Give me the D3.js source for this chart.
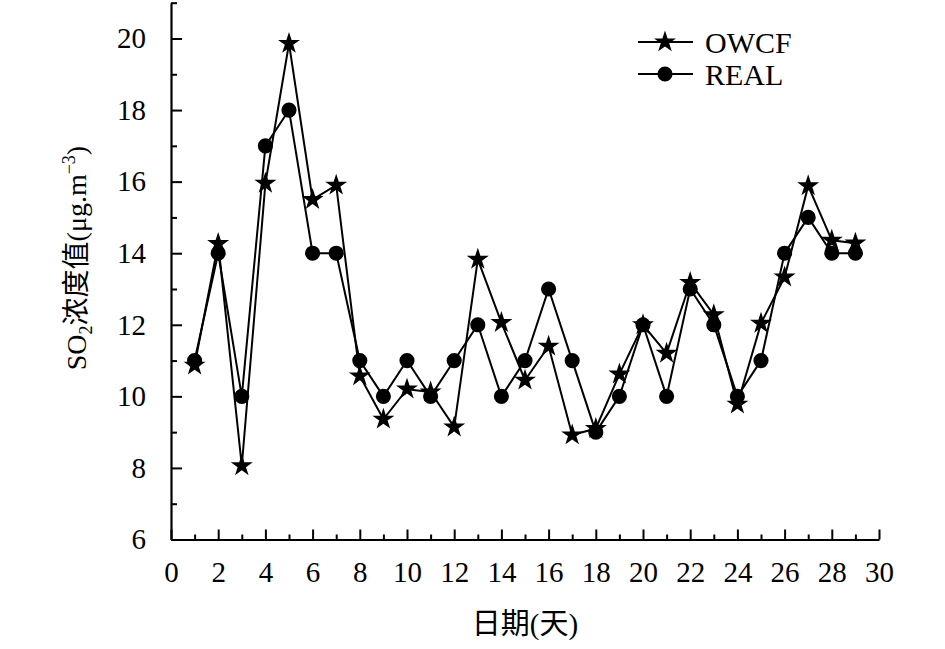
<!DOCTYPE html>
<html>
<head>
<meta charset="utf-8">
<script src="https://cdn.jsdelivr.net/npm/d3@7"></script>
<style>
  body { margin: 0; background: #fff; }
  svg text { font-family: "Liberation Serif", "Noto Sans CJK SC", serif; fill: #000; }
</style>
</head>
<body>
<div id="chart"></div>
<script>
const days = [1, 2, 3, 4, 5, 6, 7, 8, 9, 10, 11, 12, 13, 14, 15, 16, 17, 18, 19, 20, 21, 22, 23, 24, 25, 26, 27, 28, 29];
const owcf = [10.87, 14.27, 8.06, 15.95, 19.86, 15.5, 15.9, 10.57, 9.36, 10.2, 10.12, 9.14, 13.83, 12.06, 10.45, 11.4, 8.92, 9.1, 10.62, 12.0, 11.2, 13.18, 12.28, 9.78, 12.04, 13.33, 15.88, 14.36, 14.28];
const real = [11, 14, 10, 17, 18, 14, 14, 11, 10, 11, 10, 11, 12, 10, 11, 13, 11, 9, 10, 12, 10, 13, 12, 10, 11, 14, 15, 14, 14];
const seriesNames = ["OWCF", "REAL"];
const xTicks = [0, 2, 4, 6, 8, 10, 12, 14, 16, 18, 20, 22, 24, 26, 28, 30];
const yTicks = [6, 8, 10, 12, 14, 16, 18, 20];

const serif = "'Liberation Serif', 'Noto Sans CJK SC', serif";
const width = 945, height = 649;

const svg = d3.select("#chart")
    .append("svg")
    .attr("width", width)
    .attr("height", height);

const x = d3.scaleLinear().domain([0, 30]).range([171, 879]);
const y = d3.scaleLinear().domain([6, 21]).range([539.5, 2.7]);

// minor ticks (odd values), no labels
svg.append("g")
    .attr("transform", "translate(0,539.5)")
    .call(d3.axisBottom(x).tickValues(d3.range(1, 30, 2)).tickSizeInner(-5).tickSizeOuter(0).tickFormat(""))
    .call(g => g.select(".domain").remove())
    .selectAll("line").attr("stroke-width", 2);

svg.append("g")
    .attr("transform", "translate(171,0)")
    .call(d3.axisLeft(y).tickValues(d3.range(7, 22, 2)).tickSizeInner(-6).tickSizeOuter(0).tickFormat(""))
    .call(g => g.select(".domain").remove())
    .selectAll("line").attr("stroke-width", 2);

// major axes
const xAxis = svg.append("g")
    .attr("transform", "translate(0,539.5)")
    .call(d3.axisBottom(x).tickValues(xTicks).tickSizeInner(-10).tickSizeOuter(0).tickPadding(22));

const yAxis = svg.append("g")
    .attr("transform", "translate(171,0)")
    .call(d3.axisLeft(y).tickValues(yTicks).tickSizeInner(-11).tickSizeOuter(0).tickPadding(25));

[xAxis, yAxis].forEach(g => {
    g.attr("font-family", serif).attr("font-size", 29);
    g.select(".domain").attr("stroke-width", 2.2);
    g.selectAll("line").attr("stroke-width", 2);
    g.selectAll("text")
        .style("font-family", serif)
        .style("font-size", "29px");
});

// axis titles
svg.append("text")
    .attr("x", 525)
    .attr("y", 634)
    .attr("text-anchor", "middle")
    .style("font-size", "29px")
    .style("font-family", serif)
    .text("日期(天)");

const yTitle = svg.append("text")
    .attr("transform", "translate(86,258) rotate(-90)")
    .attr("text-anchor", "middle")
    .style("font-size", "28px")
    .style("font-family", serif);
yTitle.append("tspan").text("SO");
yTitle.append("tspan").attr("dy", 6).style("font-size", "18px").text("2");
yTitle.append("tspan").attr("dy", -6).text("浓度值(μg.m");
yTitle.append("tspan").attr("dy", -11).style("font-size", "18px").text("−3");
yTitle.append("tspan").attr("dy", 11).text(")");

// series
const line = d3.line()
    .x(d => x(d[0]))
    .y(d => y(d[1]));

const series = [
    { name: seriesNames[1], values: real, symbol: d3.symbol(d3.symbolCircle, 180) },
    { name: seriesNames[0], values: owcf, symbol: d3.symbol(d3.symbolStar, 150) }
];

series.forEach(s => {
    const pts = days.map((d, i) => [d, s.values[i]]);
    svg.append("path")
        .datum(pts)
        .attr("fill", "none")
        .attr("stroke", "#000")
        .attr("stroke-width", 2)
        .attr("d", line);
    svg.append("g")
        .selectAll("path")
        .data(pts)
        .enter()
        .append("path")
        .attr("transform", d => `translate(${x(d[0])},${y(d[1])})`)
        .attr("d", s.symbol)
        .attr("fill", "#000");
});

// legend
const legend = svg.append("g");
const legendItems = [
    { name: seriesNames[0], symbol: d3.symbol(d3.symbolStar, 150), cy: 42 },
    { name: seriesNames[1], symbol: d3.symbol(d3.symbolCircle, 180), cy: 74 }
];
legendItems.forEach(it => {
    legend.append("line")
        .attr("x1", 638).attr("x2", 693)
        .attr("y1", it.cy).attr("y2", it.cy)
        .attr("stroke", "#000").attr("stroke-width", 2);
    legend.append("path")
        .attr("transform", `translate(665,${it.cy})`)
        .attr("d", it.symbol)
        .attr("fill", "#000");
    legend.append("text")
        .attr("x", 705)
        .attr("y", it.cy + 11)
        .style("font-size", "30px")
        .style("font-family", serif)
        .text(it.name);
});
</script>
</body>
</html>
